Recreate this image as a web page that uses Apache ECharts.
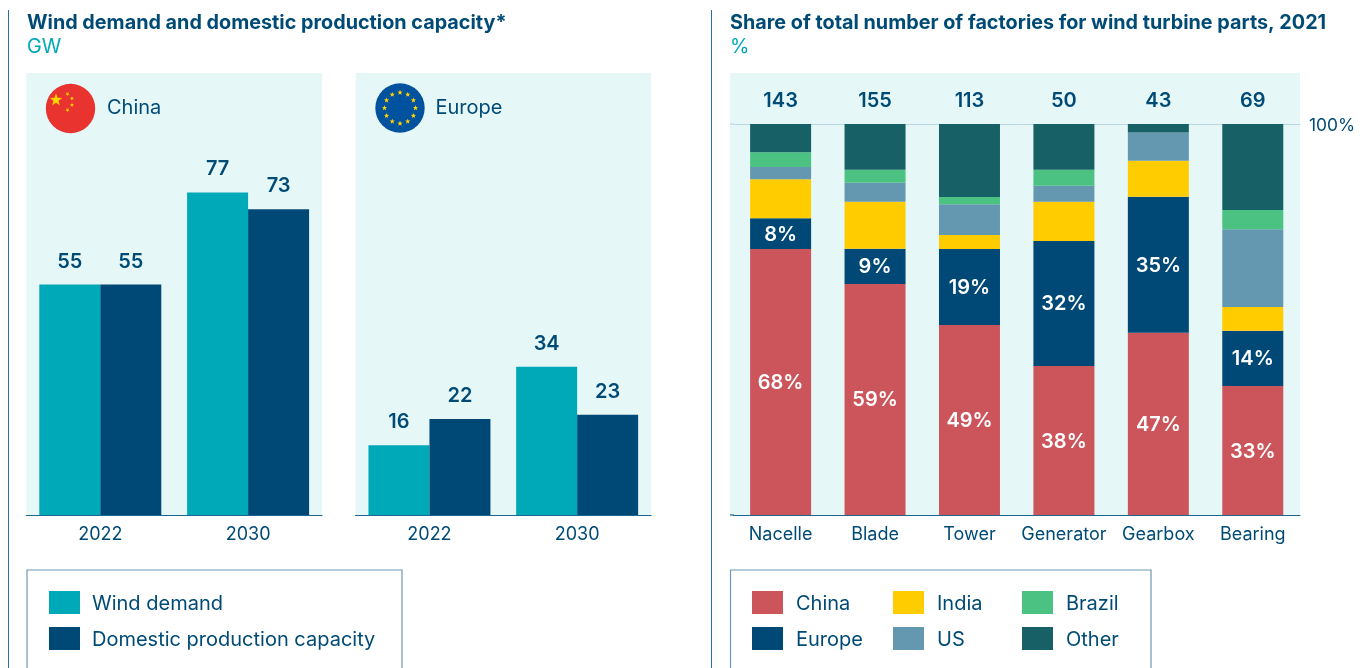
<!DOCTYPE html>
<html>
<head>
<meta charset="utf-8">
<style>html,body{margin:0;padding:0;background:#fff;overflow:hidden}#c{width:1367px;height:668px}</style>
<script src="https://cdn.jsdelivr.net/npm/echarts@6/dist/echarts.min.js"></script>
</head>
<body>
<div id="c"></div>
<script>
const years = ['2022', '2030'];
const chinaDemand = [55, 77];
const chinaCapacity = [55, 73];
const europeDemand = [16, 34];
const europeCapacity = [22, 23];

const parts = ['Nacelle', 'Blade', 'Tower', 'Generator', 'Gearbox', 'Bearing'];
const totals = ['143', '155', '113', '50', '43', '69'];
const shareChina = [68.0, 59.1, 48.6, 38.1, 46.6, 33.0];
const shareEurope = [7.9, 9.0, 19.4, 32.0, 34.8, 14.1];
const shareIndia = [10.0, 12.0, 3.6, 10.0, 9.2, 6.1];
const shareUS = [3.1, 4.9, 7.9, 4.1, 7.2, 19.9];
const shareBrazil = [3.8, 3.3, 1.8, 4.1, 0, 4.9];
const shareOther = [7.2, 11.7, 18.7, 11.7, 2.2, 22.0];

const FONT = 'Inter, "Noto Sans", sans-serif';
const NAVY = '#004b76', TEAL = '#00a9b7', PANEL = '#e6f7f8', AXIS = '#1d6690';
const COL = {china:'#cc555c', europe:'#004876', india:'#ffcc00', us:'#6398b0', brazil:'#4cc282', other:'#176066'};

function star(cx, cy, r, rot) {
  const pts = [];
  for (let i = 0; i < 10; i++) {
    const a = -Math.PI / 2 + (rot || 0) + i * Math.PI / 5;
    const R = i % 2 ? r * 0.42 : r;
    pts.push([cx + R * Math.cos(a), cy + R * Math.sin(a)]);
  }
  return {type:'polygon', z:5, shape:{points:pts}, style:{fill:'#ffd400'}};
}
const euStars = [];
for (let i = 0; i < 12; i++) {
  const a = i * Math.PI / 6;
  euStars.push(star(400 + 15.5 * Math.sin(a), 108 - 15.5 * Math.cos(a), 2.8));
}
function text(x, y, t) {
  return {type:'text', z:5, x:x, y:y, style:{text:t, fill:NAVY, font:'400 20px ' + FONT, textVerticalAlign:'middle'}};
}
function vrule(x) {
  return {type:'line', z:1, shape:{x1:x, y1:10, x2:x, y2:668}, style:{stroke:'#2a6f9b', lineWidth:1}};
}
function box(x, w) {
  return {type:'rect', z:1, shape:{x:x, y:570, width:w, height:130}, style:{fill:'#fff', stroke:'#6f97b3', lineWidth:1.2}};
}

function leftXAxis(i) {
  return {gridIndex:i, type:'category', data:years,
    axisLine:{lineStyle:{color:AXIS, width:1.2}}, axisTick:{show:false},
    axisLabel:{color:NAVY, fontFamily:FONT, fontSize:18, margin:11}};
}
function leftY(i, max) {
  return {gridIndex:i, type:'value', min:0, max:max, show:false};
}
function leftBar(name, i, data, color) {
  return {name:name, type:'bar', xAxisIndex:i, yAxisIndex:i, data:data, barWidth:61, barGap:'0%',
    itemStyle:{color:color},
    label:{show:true, position:'top', distance:13, color:NAVY, fontFamily:FONT, fontSize:20, fontWeight:600}};
}
function shareBar(name, data, color, labelled) {
  return {name:name, type:'bar', stack:'share', xAxisIndex:2, yAxisIndex:2, data:data, barWidth:61,
    itemStyle:{color:color},
    label:{show:!!labelled, position:'inside', offset:[0, 1], color:'#fff', fontFamily:FONT, fontSize:20, fontWeight:600,
      formatter:p => Math.round(p.value) + '%'}};
}
function legend(x, top, names, gap) {
  return {left:x, top:top, orient:'vertical', data:names, selectedMode:false, padding:0,
    itemWidth:31, itemHeight:23, itemGap:13, icon:'rect', formatter:'{t|{name}}',
    textStyle:{color:NAVY, fontFamily:FONT, fontSize:20, padding:[0, 0, 0, gap],
      rich:{t:{color:NAVY, fontFamily:FONT, fontSize:20, padding:[3, 0, 0, 0]}}}};
}
function heading(t, sub, x) {
  return {text:t, subtext:sub, left:x, top:13, padding:0, itemGap:4,
    textStyle:{color:NAVY, fontFamily:FONT, fontSize:19.8, fontWeight:700},
    subtextStyle:{color:TEAL, fontFamily:FONT, fontSize:19.8}};
}

const option = {
  animation:false,
  backgroundColor:'#fff',
  title:[
    heading('Wind demand and domestic production capacity*', 'GW', 27),
    heading('Share of total number of factories for wind turbine parts, 2021', '%', 730)
  ],
  grid:[
    {left:26.4, top:73, width:295.6, height:442, show:true, backgroundColor:PANEL, borderWidth:0},
    {left:355.6, top:73, width:295.4, height:442, show:true, backgroundColor:PANEL, borderWidth:0},
    {left:733.4, top:124, width:566.6, height:391}
  ],
  xAxis:[
    leftXAxis(0),
    leftXAxis(1),
    {gridIndex:2, type:'category', data:parts,
      axisLine:{lineStyle:{color:AXIS, width:1.2}}, axisTick:{show:false},
      axisLabel:{color:NAVY, fontFamily:FONT, fontSize:18, margin:11, interval:0}},
    {gridIndex:2, type:'category', position:'top', data:totals,
      axisLine:{lineStyle:{color:'#b9d7e3', width:1}}, axisTick:{show:false},
      axisLabel:{color:NAVY, fontFamily:FONT, fontSize:20, fontWeight:600, margin:13, interval:0}}
  ],
  yAxis:[
    leftY(0, 105.5),
    leftY(1, 101.4),
    {gridIndex:2, type:'value', position:'right', min:0, max:100, interval:100,
      axisLine:{show:false}, axisTick:{show:false}, splitLine:{show:false},
      axisLabel:{color:NAVY, fontFamily:FONT, fontSize:17.4, margin:9, align:'left', verticalAlign:'top',
        padding:[-7, 0, 0, 0], formatter:v => v === 100 ? '100%' : ''}}
  ],
  legend:[
    legend(49, 591, ['Wind demand', 'Domestic production capacity'], 7),
    legend(752, 591, ['China', 'Europe'], 8),
    legend(893, 591, ['India', 'US'], 8),
    legend(1022, 591, ['Brazil', 'Other'], 8)
  ],
  series:[
    leftBar('Wind demand', 0, chinaDemand, TEAL),
    leftBar('Domestic production capacity', 0, chinaCapacity, COL.europe),
    leftBar('Wind demand', 1, europeDemand, TEAL),
    leftBar('Domestic production capacity', 1, europeCapacity, COL.europe),
    shareBar('China', shareChina, COL.china, true),
    shareBar('Europe', shareEurope, COL.europe, true),
    shareBar('India', shareIndia, COL.india),
    shareBar('US', shareUS, COL.us),
    shareBar('Brazil', shareBrazil, COL.brazil),
    shareBar('Other', shareOther, COL.other)
  ],
  graphic:[
    vrule(8.5), vrule(711.5),
    {type:'rect', z:0, shape:{x:730, y:73, width:570, height:442}, style:{fill:PANEL}},
    {type:'line', z:1, shape:{x1:730, y1:515, x2:734, y2:515}, style:{stroke:AXIS, lineWidth:1.2}},
    {type:'line', z:1, shape:{x1:730, y1:124, x2:734, y2:124}, style:{stroke:'#b9d7e3', lineWidth:1}},
    box(27, 375), box(730.5, 420.5),
    {type:'circle', z:4, shape:{cx:70.5, cy:108.5, r:24.7}, style:{fill:'#e9332f'}},
    star(56, 100, 6.5), star(67.5, 94, 2.2, 0.5), star(72, 98.5, 2.2, 0.9), star(72, 105, 2.2, 0), star(67.5, 110, 2.2, 0.5),
    {type:'circle', z:4, shape:{cx:400, cy:108, r:24.7}, style:{fill:'#00529f'}},
    ...euStars,
    text(107, 108, 'China'),
    text(435.5, 108, 'Europe')
  ]
};
echarts.init(document.getElementById('c'), null, {renderer:'canvas'}).setOption(option);
</script>
</body>
</html>
